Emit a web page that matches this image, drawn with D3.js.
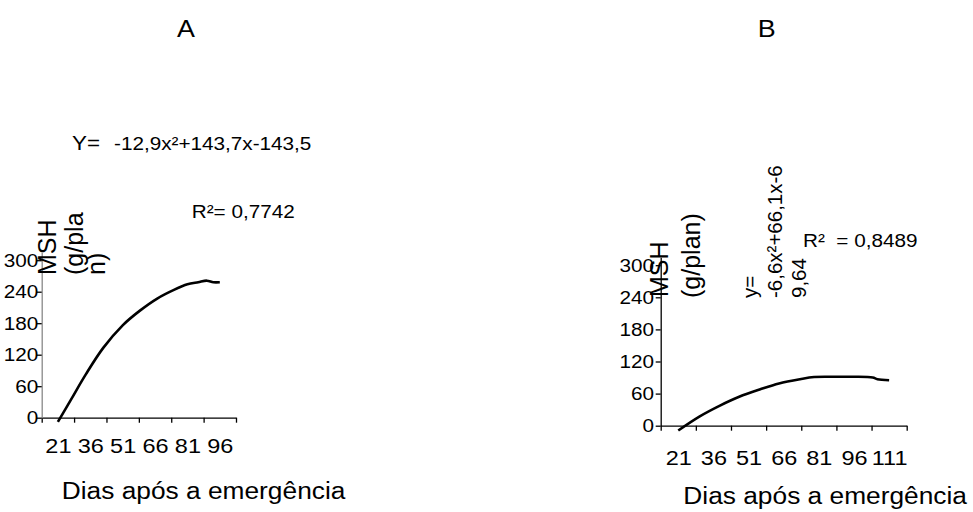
<!DOCTYPE html>
<html>
<head>
<meta charset="utf-8">
<script src="https://cdn.jsdelivr.net/npm/d3@7"></script>
<style>
  html, body { margin: 0; padding: 0; background: #fff; }
  svg text { font-family: Arial, "Liberation Sans", sans-serif; fill: #000; }
</style>
</head>
<body>
<div id="chart"></div>
<script>
// ---------- data ----------
const categoriesA = [21, 36, 51, 66, 81, 96];
const categoriesB = [21, 36, 51, 66, 81, 96, 111];
const yTicks = [0, 60, 120, 180, 240, 300];

// fitted curve (days after emergence, MSH g/plant)
const daysA   = [21, 27, 34, 42, 51, 59, 67, 75, 81, 86, 90, 93, 96];
const valuesA = [-8, 34, 83, 133, 176, 204, 227, 244, 254, 258, 261, 258, 258];

const daysB   = [21, 30, 39, 47, 56, 64, 73, 79, 87, 96, 104, 106, 111];
const valuesB = [-9, 17, 38, 54, 68, 79, 87, 91, 91.5, 91.5, 90, 87, 85];

const titleA = "A", titleB = "B";
const xTitle = "Dias após a emergência";
const eqA = "-12,9x²+143,7x-143,5";
const r2A = "R²= 0,7742";
const eqBLines = ["y=", "-6,6x²+66,1x-6", "9,64"];
const r2B = "R²  = 0,8489";

// ---------- drawing ----------
const W = 973, H = 512, SX = 1.12;
const svg = d3.select("#chart").append("svg").attr("width", W).attr("height", H);
svg.append("rect").attr("width", W).attr("height", H).attr("fill", "#fff");

function htext(x, y, str, size, anchor) {
  svg.append("g").attr("transform", `translate(${x},${y}) scale(${SX},1)`)
    .append("text").attr("font-size", size).attr("text-anchor", anchor || "start")
    .style("white-space", "pre").text(str);
}
function vtext(x, y, str, size) {
  svg.append("text").attr("transform", `translate(${x},${y}) rotate(-90)`)
    .attr("font-size", size).attr("text-anchor", "start").text(str);
}

function panel(cfg) {
  const n = cfg.cats.length;
  const step = cfg.cats[1] - cfg.cats[0];
  const d0 = cfg.cats[0] - step / 2, d1 = cfg.cats[n - 1] + step / 2;
  const x = d3.scaleLinear().domain([d0, d1]).range([cfg.x0, cfg.x1]);
  const y = d3.scaleLinear().domain([0, 315]).range([cfg.y0, cfg.y0 - 315 * cfg.pxPerUnit]);
  const bounds = d3.range(n + 1).map(i => d0 + i * step);

  // x axis tick marks at category boundaries
  const gx = svg.append("g").attr("transform", `translate(0,${cfg.y0})`)
    .call(d3.axisBottom(x).tickValues(bounds).tickFormat("").tickSize(5).tickSizeOuter(0));
  gx.select(".domain").attr("stroke", "#000").attr("stroke-width", 1.3);
  gx.selectAll(".tick line").attr("stroke", "#000").attr("stroke-width", 1.3);

  // x labels at category centres
  const gl = svg.append("g").attr("transform", `translate(0,${cfg.y0})`)
    .call(d3.axisBottom(x).tickValues(cfg.cats).tickFormat(d3.format("d")).tickSize(0).tickPadding(cfg.xPad));
  gl.select(".domain").remove();
  gl.selectAll(".tick text").attr("font-size", 21).attr("font-family", "Arial, 'Liberation Sans', sans-serif")
    .attr("fill", "#000").attr("transform", `scale(${SX},1)`);

  // y axis
  const gy = svg.append("g").attr("transform", `translate(${cfg.x0},0)`)
    .call(d3.axisLeft(y).tickValues(yTicks).tickSize(5).tickSizeOuter(0).tickPadding(cfg.yPad));
  gy.select(".domain").attr("stroke", cfg.yAxisColor).attr("stroke-width", 1.3);
  gy.selectAll(".tick line").attr("stroke", "#000").attr("stroke-width", 1.3);
  gy.selectAll(".tick text").attr("font-size", 18.5).attr("font-family", "Arial, 'Liberation Sans', sans-serif")
    .attr("fill", "#000").attr("transform", `scale(${SX},1)`);

  // fitted curve
  const pts = cfg.days.map((d, i) => [d, cfg.vals[i]]);
  svg.append("path").datum(pts)
    .attr("d", d3.line().x(d => x(d[0])).y(d => y(d[1])).curve(d3.curveCatmullRom.alpha(0.5)))
    .attr("fill", "none").attr("stroke", "#000").attr("stroke-width", 2.6)
    .attr("stroke-linejoin", "round");
}

panel({ cats: categoriesA, days: daysA, vals: valuesA, x0: 41.7, x1: 236, y0: 417.7,
        pxPerUnit: 0.525, xPad: 20.4, yPad: -2, yAxisColor: "#888" });
panel({ cats: categoriesB, days: daysB, vals: valuesB, x0: 660.7, x1: 906.7, y0: 425.7,
        pxPerUnit: 0.535, xPad: 24.3, yPad: 1, yAxisColor: "#000" });

// titles
htext(186, 36.7, titleA, 24, "middle");
htext(766.7, 36.7, titleB, 24, "middle");

// x titles
htext(61.7, 499, xTitle, 23.5);
htext(683.3, 504, xTitle, 23.5);

// panel A annotations
htext(72, 150, "Y=", 20);
htext(114, 150, eqA, 18.5);
htext(191.7, 218.3, r2A, 18.5);
vtext(56, 275, "MSH", 25);
vtext(82.5, 275, "(g/pla", 25);
vtext(105, 275, "n)", 25);

// panel B annotations
vtext(668, 297, "MSH", 25);
vtext(700, 298, "(g/plan)", 25);
eqBLines.forEach((s, i) => vtext([757, 782, 806][i], 298, s, 20.5));
htext(803, 246.7, r2B, 18.5);
</script>
</body>
</html>
